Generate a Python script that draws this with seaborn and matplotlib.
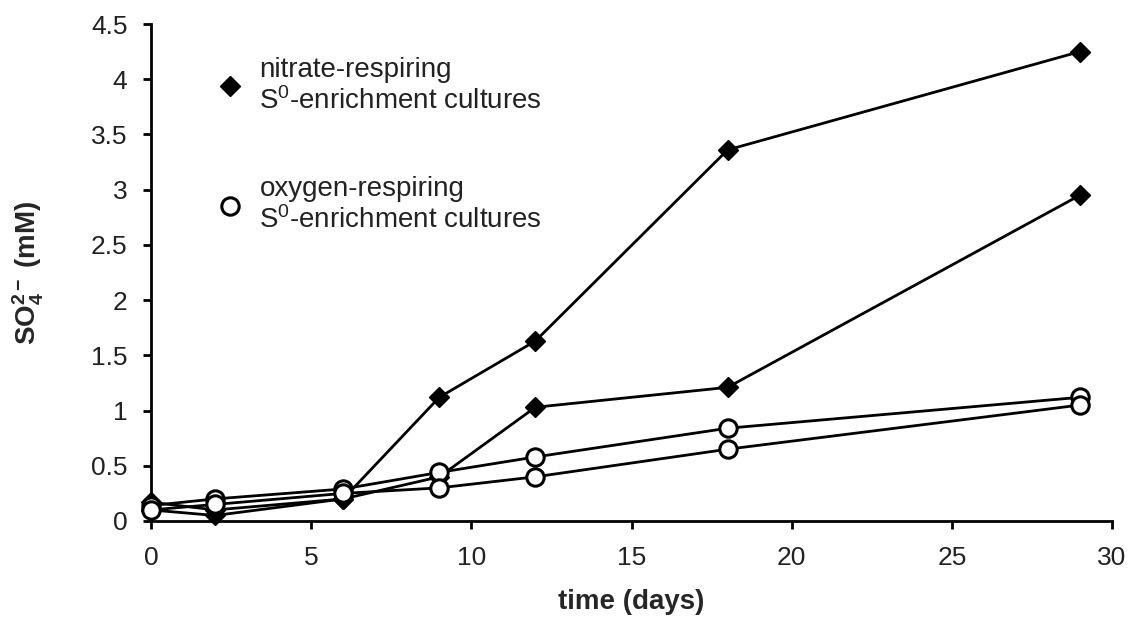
import matplotlib
matplotlib.use("Agg")
import matplotlib.pyplot as plt
import seaborn as sns
import pandas as pd
from matplotlib.lines import Line2D

days = [0, 2, 6, 9, 12, 18, 29]
nitrate_a = [0.17, 0.10, 0.20, 1.12, 1.63, 3.36, 4.25]
nitrate_b = [0.10, 0.05, 0.20, 0.40, 1.03, 1.21, 2.95]
oxygen_a = [0.14, 0.20, 0.29, 0.44, 0.58, 0.84, 1.12]
oxygen_b = [0.10, 0.15, 0.25, 0.30, 0.40, 0.65, 1.05]

x_ticks = [0, 5, 10, 15, 20, 25, 30]
y_ticks = [0, 0.5, 1, 1.5, 2, 2.5, 3, 3.5, 4, 4.5]
y_tick_labels = ["0", "0.5", "1", "1.5", "2", "2.5", "3", "3.5", "4", "4.5"]

sns.set_theme(style="ticks")
plt.rcParams['font.family'] = ['Liberation Sans', 'DejaVu Sans']
plt.rcParams['mathtext.fontset'] = 'custom'
plt.rcParams['mathtext.rm'] = 'Liberation Sans'
plt.rcParams['mathtext.it'] = 'Liberation Sans'
plt.rcParams['mathtext.bf'] = 'Liberation Sans:bold'

fig = plt.figure(figsize=(11.31, 6.18), dpi=100)
ax = fig.add_axes([151 / 1131, 97 / 618, 961 / 1131, 497 / 618])

series = [
    ("nitrate", nitrate_a), ("nitrate", nitrate_b),
    ("oxygen", oxygen_a), ("oxygen", oxygen_b),
]
for kind, vals in series:
    df = pd.DataFrame({"time": days, "so4": vals})
    if kind == "nitrate":
        sns.lineplot(data=df, x="time", y="so4", ax=ax, color="black", lw=2,
                     marker="D", markersize=10, markerfacecolor="black",
                     markeredgecolor="black", markeredgewidth=1, clip_on=False, zorder=3)
    else:
        sns.lineplot(data=df, x="time", y="so4", ax=ax, color="black", lw=2,
                     marker="o", markersize=12.5, markerfacecolor="white",
                     markeredgecolor="black", markeredgewidth=2.2, clip_on=False, zorder=4)

ax.set_xlim(0, 30)
ax.set_ylim(0, 4.5)
ax.set_xticks(x_ticks)
ax.set_xticklabels([str(t) for t in x_ticks])
ax.set_yticks(y_ticks)
ax.set_yticklabels(y_tick_labels)
ax.tick_params(axis='both', direction='out', length=6, width=2, labelsize=19,
               color='black', labelcolor='#222222')
ax.tick_params(axis='x', pad=12)
ax.tick_params(axis='y', pad=11)
for s in ['top', 'right']:
    ax.spines[s].set_visible(False)
for s in ['left', 'bottom']:
    ax.spines[s].set_linewidth(2)
    ax.spines[s].set_color('black')

ax.set_xlabel("time (days)", fontsize=20, fontweight='bold', labelpad=14)
ax.set_ylabel(r"SO$_{\mathbf{4}}^{\mathbf{2-}}$ (mM)", fontsize=20, fontweight='bold', labelpad=32)

handles = [
    Line2D([], [], ls='none', marker='D', markersize=10, markerfacecolor='black',
           markeredgecolor='black'),
    Line2D([], [], ls='none', marker='o', markersize=12.5, markerfacecolor='white',
           markeredgecolor='black', markeredgewidth=2.2),
]
labels = ["nitrate-respiring\nS$^{0}$-enrichment cultures",
          "oxygen-respiring\nS$^{0}$-enrichment cultures"]
ax.legend(handles, labels, loc='upper left', bbox_to_anchor=(0.042, 0.984),
          frameon=False, fontsize=20, handlelength=1.0, handletextpad=0.55,
          labelspacing=2.2, labelcolor='#222222')

fig.savefig("out.png", dpi=100)
